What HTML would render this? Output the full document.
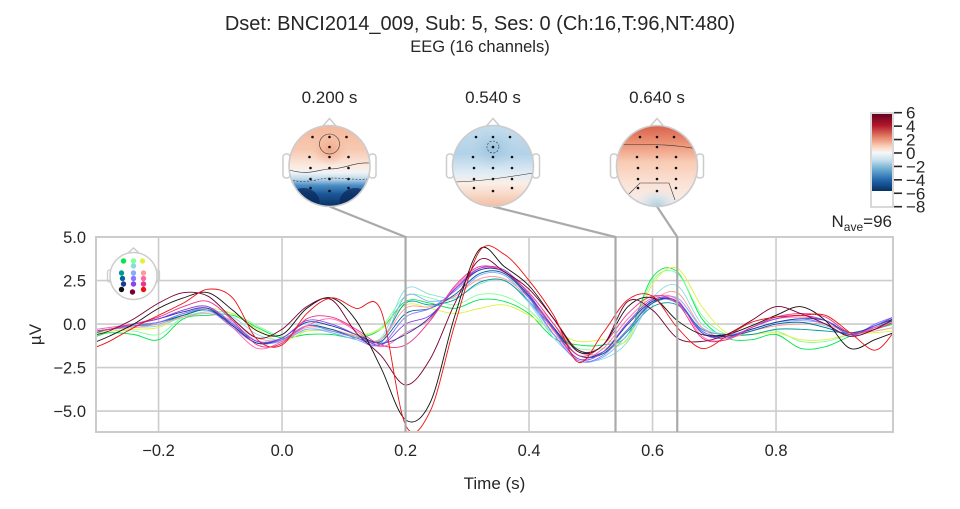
<!DOCTYPE html>
<html><head><meta charset="utf-8"><style>
body{margin:0;background:#fff;}
svg text{font-family:"Liberation Sans",sans-serif;fill:#262626;}
</style></head><body>
<svg id="fig" width="960" height="504" viewBox="0 0 960 504" xmlns="http://www.w3.org/2000/svg">
<defs>
<linearGradient id="cb" x1="0" y1="0" x2="0" y2="1">
<stop offset="0" stop-color="#67001f"/><stop offset="0.15" stop-color="#b2182b"/><stop offset="0.3" stop-color="#e58267"/><stop offset="0.42" stop-color="#fbd0b9"/><stop offset="0.5" stop-color="#f7f7f7"/><stop offset="0.6" stop-color="#c6dfed"/><stop offset="0.72" stop-color="#6aaad0"/><stop offset="0.86" stop-color="#2166ac"/><stop offset="1" stop-color="#053061"/>
</linearGradient>
<linearGradient id="t1" x1="0" y1="0" x2="0" y2="1">
<stop offset="0" stop-color="#f4b89c"/><stop offset="0.3" stop-color="#f7c9b1"/><stop offset="0.5" stop-color="#fbe9e0"/><stop offset="0.58" stop-color="#f2f4f6"/><stop offset="0.66" stop-color="#bcd8ea"/><stop offset="0.74" stop-color="#4a8cc4"/><stop offset="0.85" stop-color="#1a5596"/><stop offset="1" stop-color="#0b3060"/>
</linearGradient>
<linearGradient id="t2" x1="0" y1="0" x2="0" y2="1">
<stop offset="0" stop-color="#c4dcec"/><stop offset="0.35" stop-color="#b3d2e8"/><stop offset="0.6" stop-color="#e2edf5"/><stop offset="0.72" stop-color="#fbeee6"/><stop offset="1" stop-color="#f4bea4"/>
</linearGradient>
<linearGradient id="t3" x1="0" y1="0" x2="0" y2="1">
<stop offset="0" stop-color="#d9614b"/><stop offset="0.25" stop-color="#ee9a7d"/><stop offset="0.45" stop-color="#f8cbb4"/><stop offset="0.7" stop-color="#fbe1d4"/><stop offset="1" stop-color="#f6f0ee"/>
</linearGradient>
<radialGradient id="blueblob"><stop offset="0" stop-color="#a9cde4"/><stop offset="1" stop-color="#d8e8f2" stop-opacity="0"/></radialGradient>
<radialGradient id="topblue"><stop offset="0" stop-color="#98c2de"/><stop offset="1" stop-color="#b3d2e8" stop-opacity="0"/></radialGradient>
<radialGradient id="orangeblob"><stop offset="0" stop-color="#f2a587"/><stop offset="1" stop-color="#f4b89c" stop-opacity="0"/></radialGradient>
</defs>

<text x="480" y="30" font-size="20" text-anchor="middle">Dset: BNCI2014_009, Sub: 5, Ses: 0 (Ch:16,T:96,NT:480)</text>
<text x="480" y="52" font-size="16.5" text-anchor="middle">EEG (16 channels)</text>

<g>
<rect x="872" y="114" width="20" height="77" fill="url(#cb)"/>
<rect x="871" y="113" width="22" height="94" fill="none" stroke="#cccccc" stroke-width="1.5"/>
<g id="cbticks"></g>
</g>

<text x="892" y="227" font-size="17" text-anchor="end">N<tspan font-size="12" dy="4">ave</tspan><tspan dy="-4">=96</tspan></text>

<g id="axes"></g>
<g id="topos"></g>
</svg>
<script>
// ---- chart data ----
const times = [-0.3,-0.28,-0.24,-0.20,-0.16,-0.12,-0.08,-0.04,0,0.04,0.08,0.12,0.16,0.20,0.24,0.28,0.32,0.36,0.40,0.44,0.48,0.52,0.56,0.60,0.64,0.68,0.72,0.76,0.80,0.84,0.88,0.92,0.96,0.99];
const channelNames = ["green","light-green","yellow","light-cyan","teal","light-blue","light-pink","dark-blue","blue-violet","pink","navy","purple","pink-red","black","dark-red","red"];
const channelColors = ["#00e64d","#80ff99","#e0f040","#88dde0","#009999","#88aaff","#ff9a9a","#006699","#8877ff","#ff66aa","#1a3a99","#8844ee","#ee3388","#111111","#770033","#ee1111"];
const chGreen = [-0.7,-0.5,-0.6,-0.9,0.3,0.5,0.5,-0.2,-0.8,-0.6,-0.6,-0.8,-0.3,1.3,1.2,0.9,1.4,1.3,0.6,-0.8,-1.2,-1.2,-0.6,2.7,3.0,0.3,-0.8,-0.9,-0.6,-1.4,-1.3,-0.7,-0.3,0.0];
const chLightGreen = [-0.6,-0.4,-0.4,-0.6,0.4,0.7,0.6,-0.1,-0.7,-0.4,-0.4,-0.7,-0.2,1.6,1.5,1.1,1.7,1.6,0.8,-0.6,-1.4,-1.4,-0.8,2.5,2.9,0.5,-0.6,-0.6,-0.4,-1.0,-1.0,-0.6,-0.4,-0.2];
const chYellow = [-0.5,-0.4,-0.3,-0.2,0.5,0.9,0.6,-0.3,-1.0,-0.4,-0.4,-0.6,-0.3,1.1,0.9,0.6,0.9,1.1,0.5,-0.4,-1.0,-0.9,-0.9,2.3,3.2,1.0,-0.5,-0.6,-0.5,-0.9,-0.9,-0.6,-0.5,-0.4];
const chLightCyan = [-0.4,-0.3,-0.2,-0.1,0.4,0.7,0.4,-0.6,-0.9,-0.3,-0.4,-0.7,-0.8,2.0,1.7,1.5,2.3,2.5,1.2,-0.8,-2.0,-2.0,-1.0,1.5,2.2,0.0,-0.6,-0.4,0.0,0.1,-0.1,-0.6,-0.2,0.3];
const chTeal = [-0.5,-0.3,-0.1,0.0,0.5,0.8,0.0,-1.0,-0.9,-0.1,-0.3,-0.7,-0.9,1.2,1.1,1.4,2.4,2.5,1.3,-0.3,-1.5,-1.7,-0.4,1.0,1.1,-0.3,-0.6,-0.6,-0.3,-0.3,-0.4,-0.5,-0.2,0.1];
const chLightBlue = [-0.3,-0.2,0.0,0.1,0.6,0.9,0.1,-1.0,-1.0,-0.3,-0.5,-0.9,-1.1,1.6,1.3,1.6,2.8,2.8,1.3,-0.6,-2.1,-1.9,-0.6,1.2,1.5,-0.2,-0.6,-0.3,0.1,0.2,0.0,-0.7,-0.1,0.4];
const chLightPink = [-0.4,-0.3,-0.2,0.0,0.4,0.6,0.2,-0.8,-0.9,-0.2,-0.3,-0.7,-0.9,0.9,1.0,1.6,2.6,2.6,1.5,0.0,-1.6,-1.6,-0.3,1.3,1.8,-0.2,-0.8,-0.4,-0.1,0.0,0.0,-0.5,-0.4,-0.2];
const chDarkBlue = [-0.4,-0.3,-0.1,0.1,0.5,0.8,-0.1,-1.1,-0.9,-0.1,-0.3,-0.8,-1.0,0.6,0.9,1.7,2.9,2.9,1.5,-0.3,-1.8,-1.7,-0.3,1.2,1.3,-0.4,-0.7,-0.4,0.0,0.1,-0.2,-0.6,-0.2,0.2];
const chBlueViolet = [-0.4,-0.3,-0.1,0.1,0.6,0.8,-0.2,-1.1,-0.9,-0.1,-0.4,-0.8,-1.2,0.4,0.9,1.9,3.1,3.0,1.5,-0.6,-2.1,-1.8,-0.3,1.3,1.2,-0.4,-0.7,-0.3,0.1,0.3,0.0,-0.7,0.0,0.4];
const chPink = [-0.3,-0.2,0.0,0.3,0.8,1.0,-0.2,-1.4,-1.0,-0.1,0.3,-0.4,-1.3,-0.5,0.3,2.1,3.2,3.0,1.6,-0.4,-2.0,-1.4,0.3,1.5,1.4,-0.7,-0.9,-0.2,0.3,0.4,0.2,-0.6,-0.2,0.1];
const chNavy = [-0.4,-0.3,0.0,0.3,0.7,0.9,-0.1,-1.1,-0.8,0.1,-0.1,-0.6,-1.1,-0.6,0.4,2.0,3.1,3.0,1.6,-0.2,-1.8,-1.6,0.0,1.3,1.3,-0.5,-0.7,-0.3,0.1,0.3,0.2,-0.5,-0.1,0.3];
const chPurple = [-0.4,-0.3,0.0,0.3,0.8,1.0,0.0,-1.0,-0.8,0.2,0.0,-0.6,-1.2,0.0,0.5,2.0,3.2,3.1,1.7,-0.3,-2.0,-1.6,0.1,1.4,1.3,-0.5,-0.8,-0.2,0.3,0.5,0.2,-0.6,-0.1,0.4];
const chPinkRed = [-0.4,-0.3,0.0,0.4,1.0,1.3,0.2,-1.2,-1.1,0.3,0.4,-0.3,-1.2,-1.2,0.2,2.2,3.3,3.0,1.8,0.0,-1.8,-1.2,0.6,1.6,1.2,-0.8,-0.9,-0.2,0.4,0.6,0.4,-0.5,-0.3,0.1];
const chBlack = [-1.0,-0.7,0.0,0.9,1.5,1.8,0.8,-0.4,-0.6,0.9,1.5,0.2,-2.5,-5.5,-4.5,0.5,4.3,3.3,2.2,0.3,-1.6,-1.2,1.0,1.5,0.2,-0.6,-0.6,-0.1,0.5,1.0,0.2,-1.4,-0.9,-0.5];
const chDarkRed = [-0.6,-0.4,0.3,1.2,1.8,1.6,0.3,-0.8,-0.3,1.0,1.4,-0.5,-1.8,-3.5,-2.0,1.2,3.7,3.0,2.0,0.3,-1.5,-1.2,1.3,0.8,-0.8,-1.0,-0.6,0.2,1.0,0.6,0.0,-0.7,-0.3,0.3];
const chRed = [-1.3,-1.0,-0.2,0.5,1.2,2.0,1.5,-0.9,-1.2,0.6,1.5,0.9,0.8,-5.8,-5.0,0.0,4.2,4.0,2.5,0.5,-2.2,-0.5,1.4,1.6,-0.2,-1.4,-0.7,0.1,0.4,0.5,0.5,-0.5,-1.5,-0.5];
const seriesValues = [chGreen,chLightGreen,chYellow,chLightCyan,chTeal,chLightBlue,chLightPink,chDarkBlue,chBlueViolet,chPink,chNavy,chPurple,chPinkRed,chBlack,chDarkRed,chRed];
const xTicks = [-0.2,0.0,0.2,0.4,0.6,0.8];
const xTickLabels = ["\u22120.2","0.0","0.2","0.4","0.6","0.8"];
const yTicks = [5.0,2.5,0.0,-2.5,-5.0];
const yTickLabels = ["5.0","2.5","0.0","\u22122.5","\u22125.0"];
const topoTimes = [0.2,0.54,0.64];
const topoLabels = ["0.200 s","0.540 s","0.640 s"];
const cbTicks = [6,4,2,0,-2,-4,-6,-8];
const cbTickLabels = ["6","4","2","0","\u22122","\u22124","\u22126","\u22128"];

// ---- axes ----
const NS="http://www.w3.org/2000/svg";
const AX={l:96,r:893,t:237,b:432};
const xMin=-0.3013, xMax=0.9894, yMin=-6.2, yMax=5.0;
function xs(t){return AX.l+(t-xMin)/(xMax-xMin)*(AX.r-AX.l);}
function ys(v){return AX.b-(v-yMin)/(yMax-yMin)*(AX.b-AX.t);}
function mk(tag,attrs,parent){const e=document.createElementNS(NS,tag);for(const k in attrs)e.setAttribute(k,attrs[k]);parent.appendChild(e);return e;}
const ax=document.getElementById('axes');
const svg=document.getElementById('fig');
const defs=svg.querySelector('defs');

mk('rect',{x:AX.l,y:AX.t,width:AX.r-AX.l,height:AX.b-AX.t,fill:'#fff'},ax);
xTicks.forEach((t,i)=>{
  const g=mk('line',{x1:xs(t),x2:xs(t),y1:AX.t,y2:AX.b,stroke:'#cccccc','stroke-width':1.6},ax);
  
  
  const tx=mk('text',{x:xs(t),y:AX.b+24,'font-size':16.5,'text-anchor':'middle'},ax);
  tx.textContent=xTickLabels[i];
  
  
});
yTicks.forEach((v,i)=>{
  const g=mk('line',{x1:AX.l,x2:AX.r,y1:ys(v),y2:ys(v),stroke:'#cccccc','stroke-width':1.6},ax);
  
  
  const tx=mk('text',{x:AX.l-10,y:ys(v)+6,'font-size':16.5,'text-anchor':'end'},ax);
  tx.textContent=yTickLabels[i];
  
  
});
const xl=mk('text',{x:(AX.l+AX.r)/2,y:489,'font-size':17,'text-anchor':'middle'},ax);
xl.textContent='Time (s)';


const yl=mk('text',{x:41,y:(AX.t+AX.b)/2,'font-size':17,'text-anchor':'middle',transform:`rotate(-90 41 ${(AX.t+AX.b)/2})`},ax);
yl.textContent='\u00b5V';



function smoothPath(pts){
  let d=`M${pts[0][0].toFixed(2)},${pts[0][1].toFixed(2)}`;
  for(let i=0;i<pts.length-1;i++){
    const p0=pts[Math.max(0,i-1)],p1=pts[i],p2=pts[i+1],p3=pts[Math.min(pts.length-1,i+2)];
    const c1=[p1[0]+(p2[0]-p0[0])/6,p1[1]+(p2[1]-p0[1])/6];
    const c2=[p2[0]-(p3[0]-p1[0])/6,p2[1]-(p3[1]-p1[1])/6];
    d+=` C${c1[0].toFixed(2)},${c1[1].toFixed(2)} ${c2[0].toFixed(2)},${c2[1].toFixed(2)} ${p2[0].toFixed(2)},${p2[1].toFixed(2)}`;
  }
  return d;
}
const clip=mk('clipPath',{id:'axclip'},defs);
mk('rect',{x:AX.l,y:AX.t,width:AX.r-AX.l,height:AX.b-AX.t},clip);
const sg=mk('g',{'clip-path':'url(#axclip)'},ax);
seriesValues.forEach((vals,ci)=>{
  const pts=vals.map((v,i)=>[xs(times[i]),ys(v)]);
  const p=mk('path',{d:smoothPath(pts),fill:'none',stroke:channelColors[ci],'stroke-width':0.9},sg);
  
  
});
mk('rect',{x:AX.l,y:AX.t,width:AX.r-AX.l,height:AX.b-AX.t,fill:'none',stroke:'#cccccc','stroke-width':2},ax);

// sensor legend inset
const sensPos=[[-10,-15],[0,-15],[9,-15],[0,-10],[-12,-3],[0,-3],[10,-3],[-11,2.5],[0,2.5],[10,2.5],[-10,8],[0,8],[10,8],[-12,13.5],[-1,16],[10,13.5]];
const inset=mk('g',{},ax);


const ic=[133.5,276];
mk('path',{d:`M${ic[0]-5},${ic[1]-23.5} L${ic[0]},${ic[1]-28} L${ic[0]+5},${ic[1]-23.5}`,fill:'none',stroke:'#cccccc','stroke-width':1.5},inset);
mk('rect',{x:ic[0]-26,y:ic[1]-6,width:4,height:12,rx:2,fill:'none',stroke:'#cccccc','stroke-width':1.3},inset);
mk('rect',{x:ic[0]+22,y:ic[1]-6,width:4,height:12,rx:2,fill:'none',stroke:'#cccccc','stroke-width':1.3},inset);
mk('circle',{cx:ic[0],cy:ic[1],r:23.5,fill:'#fff',stroke:'#cccccc','stroke-width':1.5},inset);
sensPos.forEach((p,i)=>{mk('circle',{cx:ic[0]+p[0],cy:ic[1]+p[1],r:2.7,fill:channelColors[i]},inset);});

// topomaps
const topoG=document.getElementById('topos');
const topoCx=[329.5,493,657], topoCy=166, R=40.5;
const fills=['url(#t1)','url(#t2)','url(#t3)'];
const topoDots=[[-17,-29],[0,-29],[17,-29],[0,-19],[-20,-9],[0,-9],[19,-9],[-19,2],[0,2],[19,2],[-19,13],[0,13],[19,13],[-19,22],[0,25],[19,22]];
topoTimes.forEach((tt,k)=>{
  const cx=topoCx[k];
  const g=mk('g',{},topoG);
  
  
  const lab=mk('text',{x:cx,y:103,'font-size':17,'text-anchor':'middle'},g);
  lab.textContent=topoLabels[k];
  const con=mk('path',{d:`M${cx},${topoCy+R} L${xs(tt)},${AX.t} L${xs(tt)},${AX.b}`,fill:'none',stroke:'#aaaaaa','stroke-width':2.2},g);
  
  
  mk('path',{d:`M${cx-7},${topoCy-R+1} L${cx},${topoCy-R-7} L${cx+7},${topoCy-R+1}`,fill:'#fff',stroke:'#cccccc','stroke-width':1.5},g);
  mk('rect',{x:cx-R-6,y:topoCy-12,width:7,height:24,rx:3,fill:'#fff',stroke:'#cccccc','stroke-width':1.5},g);
  mk('rect',{x:cx+R-1,y:topoCy-12,width:7,height:24,rx:3,fill:'#fff',stroke:'#cccccc','stroke-width':1.5},g);
  const hc=mk('clipPath',{id:'head'+k},defs);
  mk('circle',{cx:cx,cy:topoCy,r:R},hc);
  const inner=mk('g',{'clip-path':`url(#head${k})`},g);
  mk('circle',{cx:cx,cy:topoCy,r:R,fill:fills[k]},inner);
  if(k===0){mk('ellipse',{cx:cx,cy:topoCy-16,rx:18,ry:16,fill:'url(#orangeblob)'},inner);
    mk('ellipse',{cx:cx-26,cy:topoCy+36,rx:16,ry:14,fill:'#08285a','opacity':0.7},inner);
    mk('ellipse',{cx:cx+26,cy:topoCy+36,rx:16,ry:14,fill:'#08285a','opacity':0.7},inner);
    mk('path',{d:`M${cx-40},${topoCy+4} C${cx-20},${topoCy+10} ${cx-10},${topoCy+3} ${cx},${topoCy+3} C${cx+15},${topoCy+3} ${cx+25},${topoCy-4} ${cx+40},${topoCy-3}`,fill:'none',stroke:'#333','stroke-width':0.6},inner);
    mk('path',{d:`M${cx-40},${topoCy+14} C${cx-20},${topoCy+18} ${cx-10},${topoCy+12} ${cx},${topoCy+12} C${cx+15},${topoCy+12} ${cx+25},${topoCy+14} ${cx+40},${topoCy+13}`,fill:'none',stroke:'#333','stroke-width':0.6,'stroke-dasharray':'2,1.5'},inner);
    mk('circle',{cx:cx,cy:topoCy-22,r:10,fill:'none',stroke:'#333','stroke-width':0.6},inner);}
  if(k===1){mk('ellipse',{cx:cx,cy:topoCy-17,rx:24,ry:20,fill:'url(#topblue)'},inner);
    mk('path',{d:`M${cx-40},${topoCy+16} C${cx-20},${topoCy+16} ${cx+10},${topoCy+12} ${cx+40},${topoCy+7}`,fill:'none',stroke:'#333','stroke-width':0.6},inner);
    mk('circle',{cx:cx,cy:topoCy-19,r:6,fill:'none',stroke:'#333','stroke-width':0.6,'stroke-dasharray':'2,1.5'},inner);}
  if(k===2){mk('ellipse',{cx:cx,cy:topoCy+40,rx:24,ry:18,fill:'url(#blueblob)'},inner);
    mk('path',{d:`M${cx-40},${topoCy-22} C${cx-20},${topoCy-20} ${cx+5},${topoCy-24} ${cx+40},${topoCy-17}`,fill:'none',stroke:'#333','stroke-width':0.6},inner);
    mk('path',{d:`M${cx-28},${topoCy+28} L${cx-17},${topoCy+17} L${cx+12},${topoCy+17} L${cx+18},${topoCy+34}`,fill:'none',stroke:'#333','stroke-width':0.6},inner);}
  mk('circle',{cx:cx,cy:topoCy,r:R,fill:'none',stroke:'#cccccc','stroke-width':1.6},g);
  topoDots.forEach(p=>{mk('circle',{cx:cx+p[0],cy:topoCy+p[1],r:1.3,fill:'#111'},g);});
});

// colorbar ticks
const cbG=document.getElementById('cbticks');
const cbTop=112.7, cbBot=206.7;
cbTicks.forEach((v,i)=>{
  const y=cbTop+(6-v)/14*(cbBot-cbTop);
  mk('line',{x1:894,x2:902,y1:y,y2:y,stroke:'#262626','stroke-width':1.6},cbG);
  const tx=mk('text',{x:906,y:y+6,'font-size':17},cbG);
  tx.textContent=cbTickLabels[i];
  
  
});
</script>
</body></html>
